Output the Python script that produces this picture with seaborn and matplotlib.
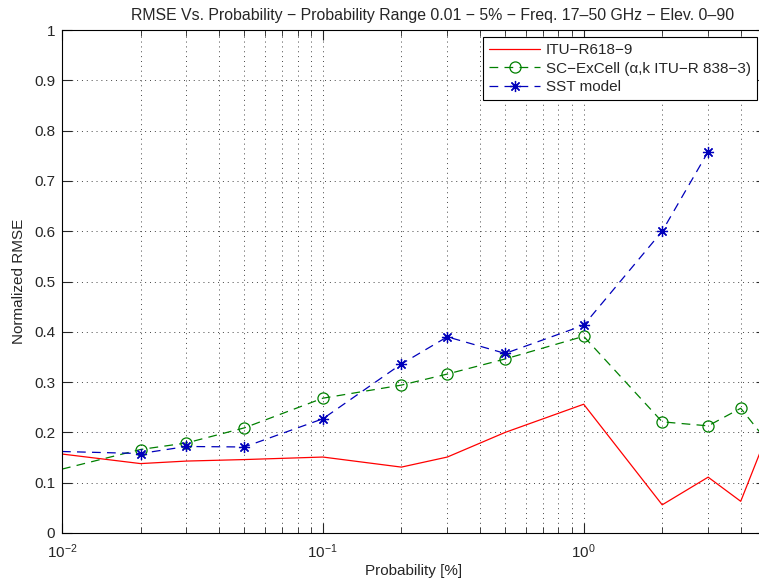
import numpy as np
import pandas as pd
import matplotlib
matplotlib.use("Agg")
import matplotlib.pyplot as plt
import seaborn as sns
from matplotlib.ticker import LogLocator, FixedLocator

# values
prob = [0.01, 0.02, 0.03, 0.05, 0.1, 0.2, 0.3, 0.5, 1, 2, 3, 4, 5]
itu = [0.157, 0.138, 0.143, 0.146, 0.151, 0.131, 0.151, 0.200, 0.256, 0.056, 0.111, 0.063, 0.19]
scex = [0.127, 0.166, 0.179, 0.209, 0.268, 0.294, 0.316, 0.346, 0.391, 0.221, 0.213, 0.248, 0.185]
sst_prob = [0.01, 0.02, 0.03, 0.05, 0.1, 0.2, 0.3, 0.5, 1, 2, 3]
sst = [0.162, 0.158, 0.172, 0.171, 0.227, 0.336, 0.390, 0.357, 0.413, 0.600, 0.758]

labels = ["ITU\u2212R618\u22129", "SC\u2212ExCell (\u03b1,k ITU\u2212R 838\u22123)", "SST model"]
yticks = [round(0.1 * i, 1) for i in range(11)]

sns.set_style("ticks")
plt.rcParams["font.family"] = ["Liberation Sans", "DejaVu Sans"]
plt.rcParams["axes.unicode_minus"] = True
plt.rcParams["font.size"] = 11

fig = plt.figure(figsize=(7.59, 5.84), dpi=100)
ax = fig.add_axes([62 / 759, 51 / 584, 704 / 759, 503 / 584])

df_itu = pd.DataFrame({"p": prob, "v": itu})
df_sc = pd.DataFrame({"p": prob, "v": scex})
df_sst = pd.DataFrame({"p": sst_prob, "v": sst})

# first point (0.01) and points past the visible edge carry no marker in the reference
sns.lineplot(data=df_itu, x="p", y="v", ax=ax, color="#ff0000", lw=0.9, label=labels[0])
sns.lineplot(data=df_sc, x="p", y="v", ax=ax, color="#008000", lw=0.9, marker="o",
             markersize=8, markerfacecolor="none", markeredgecolor="#008000",
             markeredgewidth=0.9, dashes=(7, 5), markevery=list(range(1, 12)),
             label=labels[1])
sns.lineplot(data=df_sst, x="p", y="v", ax=ax, color="#0000bb", lw=0.9, marker=(8, 2, 0),
             markersize=8, markeredgecolor="#0000bb", markeredgewidth=0.9,
             dashes=(7, 5), markevery=list(range(1, 11)), label=labels[2])

ax.set_xscale("log")
ax.set_xlim(0.01, 5)
ax.set_ylim(0, 1)
ax.set_yticks(yticks)
ax.set_yticklabels(["0" if t == 0 else ("1" if t == 1 else f"{t:g}") for t in yticks])
ax.xaxis.set_major_locator(FixedLocator([0.01, 0.1, 1]))
ax.xaxis.set_minor_locator(LogLocator(base=10, subs=np.arange(2, 10)))
ax.xaxis.set_minor_formatter(plt.NullFormatter())

ax.grid(True, which="major", axis="both", linestyle=(0, (1, 4)), color="#444444", lw=0.7)
ax.grid(True, which="minor", axis="x", linestyle=(0, (1, 4)), color="#444444", lw=0.7)
ax.tick_params(which="both", direction="in", top=True, right=True, labelsize=11)
ax.tick_params(which="major", length=7)
ax.tick_params(which="minor", length=4)
ax.tick_params(axis="x", which="major", pad=7)
ax.tick_params(axis="y", which="major", pad=5)
for s in ax.spines.values():
    s.set_linewidth(0.8)
    s.set_color("black")

ax.set_xlabel("Probability [%]", fontsize=11, labelpad=2)
ax.set_ylabel("Normalized RMSE", fontsize=11, labelpad=6)
ax.set_title("RMSE Vs. Probability \u2212 Probability Range 0.01 \u2212 5% \u2212 Freq. 17\u201350 GHz \u2212 Elev. 0\u201390",
             fontsize=11.4, pad=7, x=0.527)

leg = ax.legend(loc="upper right", bbox_to_anchor=(757 / 759, 1 - 37 / 584),
                bbox_transform=fig.transFigure, fancybox=False, framealpha=1,
                edgecolor="black", fontsize=11, borderaxespad=0, handlelength=3.3,
                handletextpad=0.4, labelspacing=0.3, borderpad=0.4)
leg.get_frame().set_linewidth(0.8)

fig.savefig("out.png", dpi=100)
